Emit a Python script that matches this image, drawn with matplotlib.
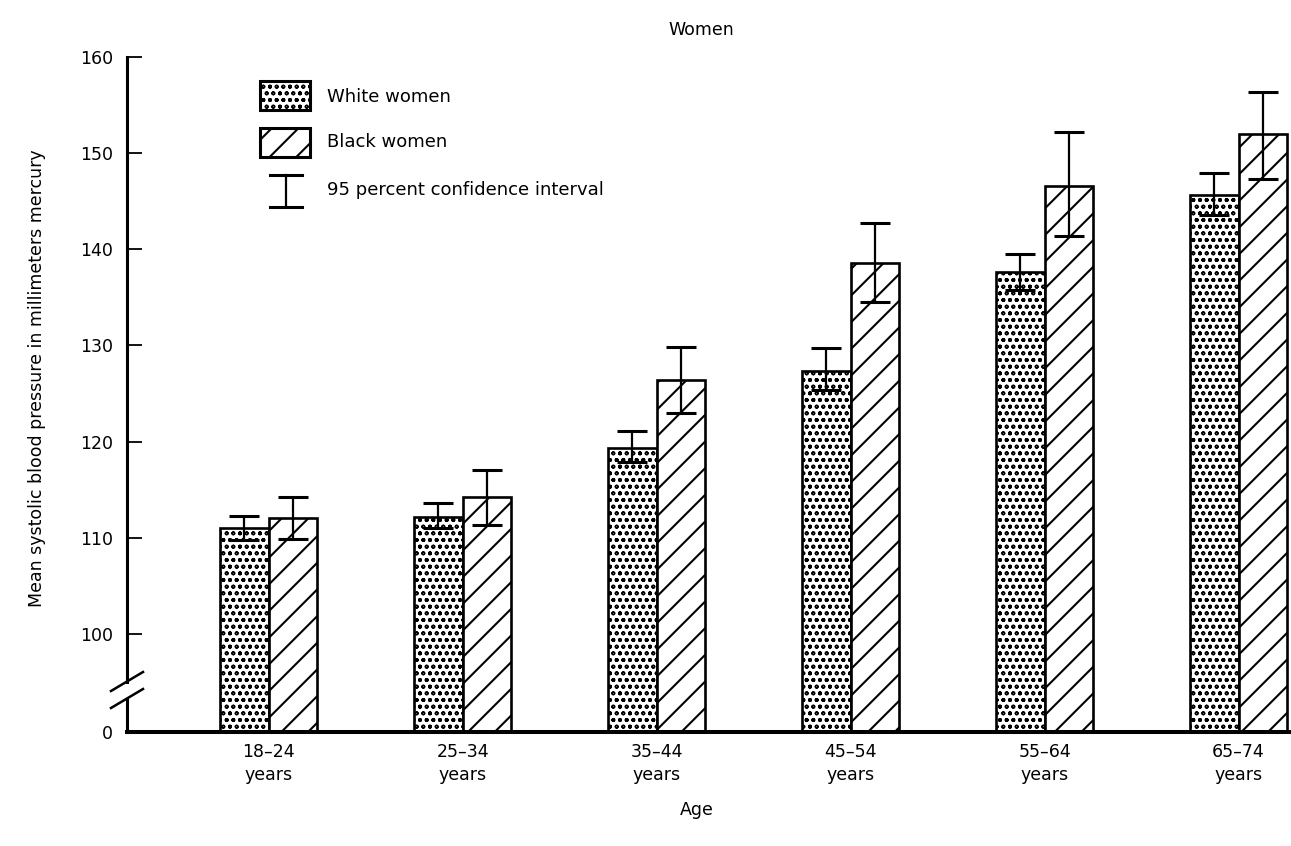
import numpy as np
import matplotlib
matplotlib.use("Agg")
import matplotlib.pyplot as plt
from matplotlib.patches import Rectangle

DPI = 80
S = 100 / DPI  # sizes below are given as if at 100 dpi

plt.rcParams['font.family'] = ['DejaVu Sans']

# data (mm Hg)
age_groups = ['18\u201324\nyears', '25\u201334\nyears', '35\u201344\nyears',
              '45\u201354\nyears', '55\u201364\nyears', '65\u201374\nyears']
white_mean = [111.0, 112.2, 119.3, 127.3, 137.6, 145.7]
white_lo = [109.8, 111.0, 117.9, 125.4, 135.8, 143.6]
white_hi = [112.3, 113.6, 121.1, 129.7, 139.5, 147.9]
black_mean = [112.1, 114.2, 126.4, 138.6, 146.6, 152.0]
black_lo = [109.9, 111.3, 123.0, 134.5, 141.4, 147.3]
black_hi = [114.2, 117.0, 129.8, 142.7, 152.2, 156.4]

ytick_vals = [100, 110, 120, 130, 140, 150, 160]
base = 89.8  # where the broken axis puts "0"

x = np.arange(len(age_groups))
w = 0.25
fs = 12.5 * S
dot_lw = 1.0 * S
line_lw = 1.5 * S

fig = plt.figure(figsize=(1291 / DPI, 846 / DPI), dpi=DPI)
ax = fig.add_axes([127/1291, 1 - 732/846, 1164/1291, 675/846])

white_mean = np.array(white_mean)
black_mean = np.array(black_mean)

with plt.rc_context({'hatch.linewidth': dot_lw}):
    ax.bar(x - w/2, white_mean - base, w, bottom=base, facecolor='white',
           edgecolor='black', linewidth=1.9 * S, hatch='oo', zorder=2)
    ax.add_patch(Rectangle(((260 - 127)/1164, (732 - 110)/675), 50/1164, 29/675,
                           transform=ax.transAxes, facecolor='white',
                           edgecolor='black', lw=2.2 * S, hatch='oo'))
with plt.rc_context({'hatch.linewidth': line_lw}):
    ax.bar(x + w/2, black_mean - base, w, bottom=base, facecolor='white',
           edgecolor='black', linewidth=1.9 * S, hatch='/', zorder=2)
    ax.add_patch(Rectangle(((260 - 127)/1164, (732 - 157)/675), 50/1164, 29/675,
                           transform=ax.transAxes, facecolor='white',
                           edgecolor='black', lw=2.2 * S, hatch='/'))

werr = [white_mean - np.array(white_lo), np.array(white_hi) - white_mean]
berr = [black_mean - np.array(black_lo), np.array(black_hi) - black_mean]
ax.errorbar(x - w/2, white_mean, yerr=werr, fmt='none', ecolor='black',
            elinewidth=1.6 * S, capsize=10.8 * S, capthick=2.2 * S, zorder=3)
ax.errorbar(x + w/2, black_mean, yerr=berr, fmt='none', ecolor='black',
            elinewidth=1.6 * S, capsize=10.8 * S, capthick=2.2 * S, zorder=3)

ax.set_xlim(-0.73, 5.27)
ax.set_ylim(base, 160)

ax.set_yticks([base] + ytick_vals)
ax.set_yticklabels(['0'] + [str(v) for v in ytick_vals], fontsize=fs)
ax.tick_params(axis='y', direction='in', length=11 * S, width=1.3 * S, pad=10 * S)
ax.yaxis.get_major_ticks()[0].tick1line.set_visible(False)

ax.set_xticks(x)
ax.set_xticklabels(age_groups, fontsize=fs, linespacing=1.35)
ax.tick_params(axis='x', length=0, pad=8 * S)

for s in ['top', 'right', 'left']:
    ax.spines[s].set_visible(False)
ax.spines['bottom'].set_linewidth(2.9 * S)

# left axis with a break
gap_lo = (732 - 698.5) / 675
gap_hi = (732 - 681.5) / 675
ax.plot([0, 0], [0, gap_lo], color='black', lw=2.2 * S, transform=ax.transAxes, clip_on=False)
ax.plot([0, 0], [gap_hi, 1], color='black', lw=2.2 * S, transform=ax.transAxes, clip_on=False)
for yl, yr in [(691, 672), (708, 689)]:
    ax.plot([(111 - 127)/1164, (143 - 127)/1164], [(732 - yl)/675, (732 - yr)/675],
            color='black', lw=1.8 * S, transform=ax.transAxes, clip_on=False)

ax.set_xlabel('Age', fontsize=fs)
ax.xaxis.set_label_coords((697 - 127)/1164, (732 - 810)/675)
ax.xaxis.label.set_va('center')
ax.set_ylabel('Mean systolic blood pressure in millimeters mercury', fontsize=fs)
ax.yaxis.set_label_coords((37 - 127)/1164, (732 - 378)/675)
ax.yaxis.label.set_va('center')

ax.text((701 - 127)/1164, (732 - 30)/675, 'Women', fontsize=fs,
        ha='center', va='center', transform=ax.transAxes)

# rest of the hand-drawn legend
ex = (286 - 127)/1164
e0, e1 = (732 - 207)/675, (732 - 175)/675
cw = 16/1164
ax.plot([ex, ex], [e0, e1], color='black', lw=1.6 * S, transform=ax.transAxes)
for ey in (e0, e1):
    ax.plot([ex - cw, ex + cw], [ey, ey], color='black', lw=2.2 * S, transform=ax.transAxes)

tx = (327 - 127)/1164
lfs = 13 * S
ax.text(tx, (732 - 97)/675, 'White women', fontsize=lfs, va='center', transform=ax.transAxes)
ax.text(tx, (732 - 142)/675, 'Black women', fontsize=lfs, va='center', transform=ax.transAxes)
ax.text(tx, (732 - 190)/675, '95 percent confidence interval', fontsize=lfs,
        va='center', transform=ax.transAxes)

fig.savefig('out.png', dpi=DPI)
